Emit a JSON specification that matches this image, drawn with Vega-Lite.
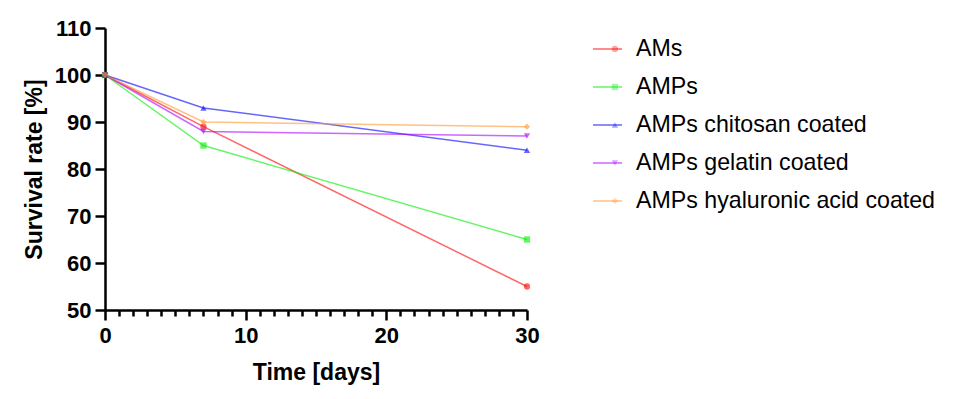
{
  "$schema": "https://vega.github.io/schema/vega-lite/v6.json",
  "width": 422,
  "height": 282,
  "autosize": {"type": "none"},
  "padding": {"left": 105, "top": 28, "right": 428, "bottom": 89},
  "data": {
    "values": [
      {"series": "AMs", "day": 0, "rate": 100},
      {"series": "AMs", "day": 7, "rate": 89},
      {"series": "AMs", "day": 30, "rate": 55},
      {"series": "AMPs", "day": 0, "rate": 100},
      {"series": "AMPs", "day": 7, "rate": 85},
      {"series": "AMPs", "day": 30, "rate": 65},
      {"series": "AMPs chitosan coated", "day": 0, "rate": 100},
      {"series": "AMPs chitosan coated", "day": 7, "rate": 93},
      {"series": "AMPs chitosan coated", "day": 30, "rate": 84},
      {"series": "AMPs gelatin coated", "day": 0, "rate": 100},
      {"series": "AMPs gelatin coated", "day": 7, "rate": 88},
      {"series": "AMPs gelatin coated", "day": 30, "rate": 87},
      {"series": "AMPs hyaluronic acid coated", "day": 0, "rate": 100},
      {"series": "AMPs hyaluronic acid coated", "day": 7, "rate": 90},
      {"series": "AMPs hyaluronic acid coated", "day": 30, "rate": 89}
    ]
  },
  "config": {
    "view": {"stroke": null},
    "font": "Liberation Sans",
    "axis": {
      "domainColor": "black",
      "tickColor": "black",
      "labelColor": "black",
      "titleColor": "black",
      "domainWidth": 2.5,
      "tickWidth": 2.5,
      "grid": false
    }
  },
  "layer": [
    {
      "mark": {"type": "line", "strokeWidth": 1.5, "opacity": 0.6},
      "encoding": {
        "x": {
          "field": "day",
          "type": "quantitative",
          "scale": {"domain": [0, 30], "nice": false},
          "axis": {
            "values": [0, 10, 20, 30],
            "tickSize": 10,
            "labelFontSize": 22,
            "labelFontWeight": "bold",
            "labelPadding": 5,
            "labelFlush": false,
            "title": "Time [days]",
            "titleFontSize": 23,
            "titleFontWeight": "bold",
            "titlePadding": 15
          }
        },
        "y": {
          "field": "rate",
          "type": "quantitative",
          "scale": {"domain": [50, 110], "nice": false, "zero": false},
          "axis": {
            "values": [50, 60, 70, 80, 90, 100, 110],
            "tickSize": 10,
            "labelFontSize": 22,
            "labelFontWeight": "bold",
            "labelPadding": 4,
            "title": "Survival rate [%]",
            "titleFontSize": 23,
            "titleFontWeight": "bold",
            "titlePadding": 8
          }
        },
        "stroke": {
          "field": "series",
          "type": "nominal",
          "scale": {
            "domain": ["AMs", "AMPs", "AMPs chitosan coated", "AMPs gelatin coated", "AMPs hyaluronic acid coated"],
            "range": ["#ff0000", "#00ee00", "#0000ff", "#aa00ff", "#ff9933"]
          },
          "legend": {
            "orient": "none",
            "legendX": 487,
            "legendY": 5.5,
            "title": null,
            "padding": 0,
            "symbolType": "stroke",
            "symbolSize": 841,
            "symbolStrokeWidth": 1.5,
            "symbolOpacity": 0.6,
            "labelFontSize": 23.2,
            "labelColor": "black",
            "labelLimit": 0,
            "labelOffset": 13,
            "rowPadding": 11
          }
        }
      }
    },
    {
      "mark": {"type": "point", "filled": true, "size": 40, "opacity": 0.6},
      "encoding": {
        "x": {
          "field": "day",
          "type": "quantitative",
          "axis": {
            "orient": "bottom",
            "values": [1, 2, 3, 4, 5, 6, 7, 8, 9, 11, 12, 13, 14, 15, 16, 17, 18, 19, 21, 22, 23, 24, 25, 26, 27, 28, 29],
            "tickSize": 6,
            "labels": false,
            "domain": false,
            "title": null
          }
        },
        "y": {"field": "rate", "type": "quantitative"},
        "fill": {
          "field": "series",
          "type": "nominal",
          "sort": null,
          "scale": {"range": ["#ff0000", "#00ee00", "#0000ff", "#aa00ff", "#ff9933"]},
          "legend": {
            "orient": "none",
            "legendX": 498.3,
            "legendY": 9.3,
            "title": null,
            "padding": 0,
            "symbolSize": 40,
            "symbolOpacity": 0.6,
            "symbolStrokeWidth": 0,
            "labelExpr": "' '",
            "labelFontSize": 23.2,
            "labelOffset": 13,
            "rowPadding": 14
          }
        },
        "shape": {
          "field": "series",
          "type": "nominal",
          "sort": null,
          "scale": {"range": ["circle", "square", "triangle-up", "triangle-down", "diamond"]}
        }
      }
    }
  ],
  "resolve": {"axis": {"x": "independent"}}
}
